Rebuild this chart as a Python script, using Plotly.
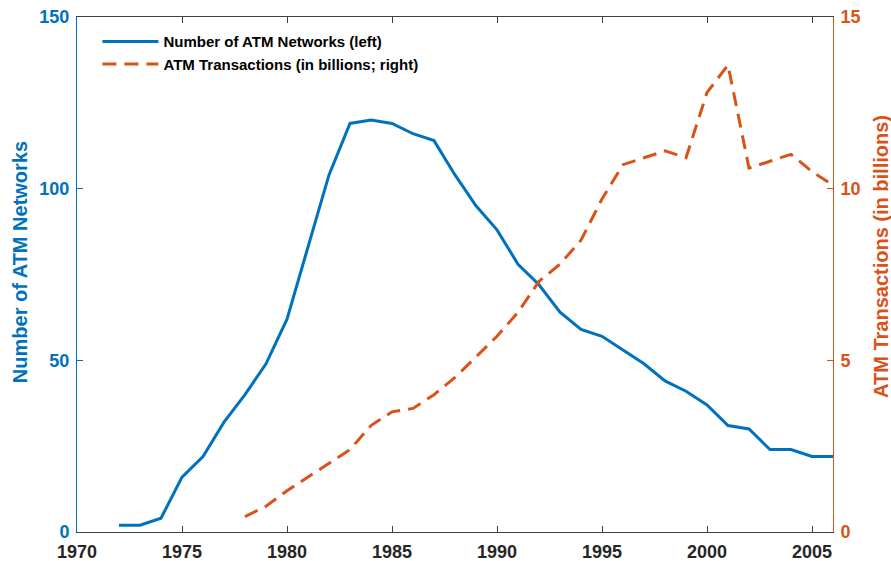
import plotly.graph_objects as go

years_networks = list(range(1972, 2007))
atm_networks = [2, 2, 4, 16, 22, 32, 40, 49, 62, 83, 104, 119, 120, 119, 116, 114,
                104, 95, 88, 78, 72, 64, 59, 57, 53, 49, 44, 41, 37, 31, 30, 24,
                24, 22, 22]

years_tx = list(range(1978, 2007))
atm_transactions = [0.45, 0.75, 1.2, 1.6, 2.0, 2.4, 3.1, 3.5, 3.6, 4.0, 4.5, 5.1,
                    5.7, 6.4, 7.3, 7.8, 8.5, 9.7, 10.7, 10.9, 11.1, 10.9, 12.8,
                    13.6, 10.6, 10.8, 11.0, 10.5, 10.1]

x_ticks = [1970, 1975, 1980, 1985, 1990, 1995, 2000, 2005]
left_ticks = [0, 50, 100, 150]
right_ticks = [0, 5, 10, 15]

left_title = "Number of ATM Networks"
right_title = "ATM Transactions (in billions)"

BLUE = "#0072BD"
ORANGE = "#D95319"
FONT = "Liberation Sans, Arial, sans-serif"

fig = go.Figure()
fig.add_trace(go.Scatter(
    x=years_networks, y=atm_networks, mode="lines",
    name="Number of ATM Networks (left)",
    line=dict(color=BLUE, width=3),
))
fig.add_trace(go.Scatter(
    x=years_tx, y=atm_transactions, mode="lines", yaxis="y2",
    name="ATM Transactions (in billions; right)",
    line=dict(color=ORANGE, width=3, dash="14px,8px"),
))

# axis titles placed as rotated annotations beside each y axis
fig.add_annotation(
    text=left_title, xref="paper", yref="paper", x=0, y=0.524,
    xanchor="center", yanchor="middle", xshift=-57, textangle=-90,
    showarrow=False,
    font=dict(family=FONT, size=20, color=BLUE, weight="bold"),
)
fig.add_annotation(
    text=right_title, xref="paper", yref="paper", x=1, y=0.534,
    xanchor="center", yanchor="middle", xshift=48, textangle=-90,
    showarrow=False,
    font=dict(family=FONT, size=20, color=ORANGE, weight="bold"),
)

fig.update_layout(
    width=891, height=561,
    margin=dict(l=77, r=58, t=17, b=29, autoexpand=False),
    paper_bgcolor="white", plot_bgcolor="white",
    font=dict(family=FONT, size=15),
    showlegend=True,
    legend=dict(
        x=0.027, y=0.984, xanchor="left", yanchor="top",
        bgcolor="rgba(0,0,0,0)", borderwidth=0,
        font=dict(family=FONT, size=15, color="black", weight="bold"),
        tracegroupgap=0, itemwidth=56,
    ),
    xaxis=dict(
        range=[1970, 2006], tickvals=x_ticks, automargin=False,
        ticks="inside", ticklen=6, tickcolor="#404040",
        showline=True, linecolor="#404040", linewidth=1, mirror="ticks",
        showgrid=False, zeroline=False, ticklabelstandoff=3,
        tickfont=dict(family=FONT, size=18, color="#262626", weight="bold"),
    ),
    yaxis=dict(
        range=[0, 150], tickvals=left_ticks, automargin=False,
        ticks="inside", ticklen=6, tickcolor=BLUE,
        showline=True, linecolor=BLUE, linewidth=1,
        showgrid=False, zeroline=False, ticklabelstandoff=3,
        tickfont=dict(family=FONT, size=18, color=BLUE, weight="bold"),
    ),
    yaxis2=dict(
        range=[0, 15], tickvals=right_ticks, overlaying="y", side="right",
        automargin=False,
        ticks="inside", ticklen=6, tickcolor=ORANGE,
        showline=True, linecolor=ORANGE, linewidth=1,
        showgrid=False, zeroline=False, ticklabelstandoff=3,
        tickfont=dict(family=FONT, size=18, color=ORANGE, weight="bold"),
    ),
)

fig.write_html("out.html")
